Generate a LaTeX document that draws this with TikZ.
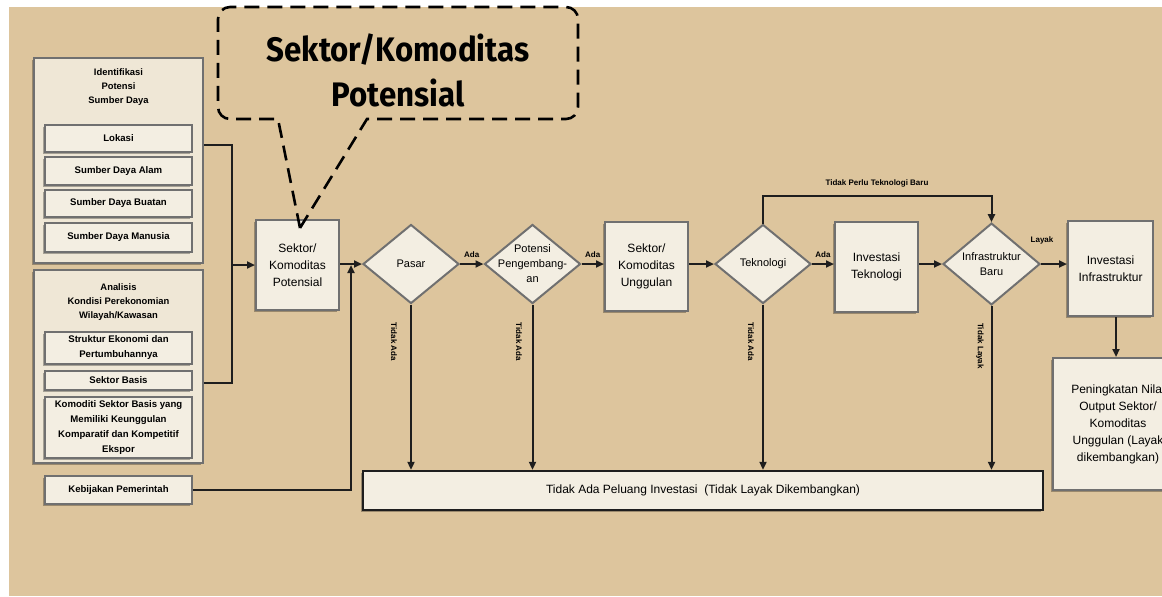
\documentclass[tikz,border=0pt]{standalone}
\usepackage{fontspec}
\setmainfont{Liberation Sans}
\newfontfamily\calloutfont[FakeStretch=0.92]{Fira Sans}
\usepackage{tikz}
\usetikzlibrary{shapes.geometric, arrows.meta, shadows}

\definecolor{paper}{HTML}{DDC59D}
\definecolor{boxfill}{HTML}{F3EEE2}
\definecolor{panelfill}{HTML}{EFE7D6}
\definecolor{edge}{HTML}{707070}
\definecolor{ink}{HTML}{1E1E1E}

\tikzset{
	shade box/.style = {drop shadow = {shadow xshift = -1pt, shadow yshift = -1pt, fill = black, opacity = 0.3}},
	panel/.style = {draw = edge, fill = panelfill, line width = 0.8pt, shade box},
	itembox/.style = {draw = edge, fill = boxfill, line width = 0.8pt, minimum width = 73.5pt, inner sep = 0.5pt, align = center, font = \fontsize{4.8}{7.5}\selectfont\bfseries, shade box},
	flowbox/.style = {draw = edge, fill = boxfill, line width = 1pt, inner sep = 1pt, align = center, font = \fontsize{6}{8.5}\selectfont, shade box},
	decision/.style = {diamond, draw = edge, fill = boxfill, line width = 1pt, inner sep = 0pt, align = center, font = \fontsize{5.5}{7.5}\selectfont, minimum width = 48pt, minimum height = 39.5pt},
	decision text/.style = {align = center, font = \fontsize{5.5}{7.5}\selectfont},
	panel title/.style = {align = center, font = \fontsize{4.7}{7}\selectfont\bfseries},
	tag/.style = {font = \fontsize{4}{5}\selectfont\bfseries, inner sep = 0.5pt},
	vtag/.style = {tag, rotate = -90},
	flow/.style = {draw = ink, line width = 1pt, -{Triangle[length = 4pt, width = 3.5pt]}},
	link/.style = {draw = ink, line width = 1pt},
	callout/.style = {draw = black, line width = 1.3pt, dash pattern = on 7.5pt off 4pt},
}

\begin{document}
\begin{tikzpicture}[x = 0.5pt, y = -0.5pt]
	\fill [white] (0,0) rectangle (1162,596);
	\fill [paper] (9,7) rectangle (1162,596);
	\useasboundingbox (0,0) rectangle (1162,596);

	\node (identifikasi) [panel, minimum width = 84.5pt, minimum height = 102.5pt] at (118.5,160.5) {};
	\node (identifikasi title) [panel title] at (118.5,87) {Identifikasi\\Potensi\\Sumber Daya};
	\node (lokasi) [itembox, minimum height = 13.5pt] at (118.5,138.5) {Lokasi};
	\node (alam) [itembox, minimum height = 14pt] at (118.5,171) {Sumber Daya Alam};
	\node (buatan) [itembox, minimum height = 13.5pt] at (118.5,203.5) {Sumber Daya Buatan};
	\node (manusia) [itembox, minimum height = 14.5pt] at (118.5,237.5) {Sumber Daya Manusia};

	\node (analisis) [panel, minimum width = 84.5pt, minimum height = 96.5pt] at (118.5,366.5) {};
	\node (analisis title) [panel title] at (118.5,302) {Analisis\\Kondisi Perekonomian\\Wilayah/Kawasan};
	\node (struktur) [itembox, minimum height = 16pt] at (118.5,348) {Struktur Ekonomi dan\\Pertumbuhannya};
	\node (basis) [itembox, minimum height = 9.5pt] at (118.5,380.5) {Sektor Basis};
	\node (komoditi) [itembox, minimum height = 30.5pt] at (118.5,427.5) {Komoditi Sektor Basis yang\\Memiliki Keunggulan\\Komparatif dan Kompetitif\\Ekspor};
	\node (kebijakan) [itembox, minimum height = 14pt] at (118.5,490) {Kebijakan Pemerintah};

	\node (potensial) [flowbox, minimum width = 41.5pt, minimum height = 45pt] at (297.5,265) {Sektor/\\Komoditas\\Potensial};
	\node (pasar) [decision] at (411,264) {Pasar};
	\node (pengembangan) [decision, label = {[decision text]center:Potensi\\Pengembang-\\an}] at (532.5,264) {};
	\node (unggulan) [flowbox, minimum width = 41.5pt, minimum height = 44.5pt] at (646.5,266) {Sektor/\\Komoditas\\Unggulan};
	\node (teknologi) [decision] at (763,264) {Teknologi};
	\node (investasi teknologi) [flowbox, minimum width = 41.5pt, minimum height = 45pt] at (876.5,267) {Investasi\\Teknologi};
	\node (infrastruktur) [decision, minimum width = 48.5pt] at (991.5,264) {Infrastruktur\\Baru};
	\node (investasi infrastruktur) [flowbox, minimum width = 42.5pt, minimum height = 47.5pt] at (1110.5,268.5) {Investasi\\Infrastruktur};
	\node (nilai) [flowbox, minimum width = 65pt, minimum height = 66pt] at (1118,424) {Peningkatan Nilai\\Output Sektor/\\Komoditas\\Unggulan (Layak\\dikembangkan)};
	\node (peluang) [flowbox, draw = ink, line width = 1.2pt, minimum width = 340pt, minimum height = 19.5pt] at (703,490.5) {Tidak Ada Peluang Investasi~~(Tidak Layak Dikembangkan)};

	\coordinate (gabung) at (232,265);
	\coordinate (kebijakan masuk) at (351,265);

	\draw [link] (identifikasi.east) ++(0,-15.5) -| (gabung);
	\draw [link] (analisis.east) ++(0,16.5) -| (gabung);
	\draw [flow] (gabung) -- (potensial.west);
	\draw [flow] (kebijakan.east) -| (kebijakan masuk);
	\draw [flow] (potensial.east |- pasar.west) -- (pasar.west);
	\draw [flow] (pasar.east) -- (pengembangan.west) node (ada pasar) [tag, midway, above = 2pt] {Ada};
	\draw [flow] (pengembangan.east) -- (unggulan.west |- pengembangan.east) node (ada pengembangan) [tag, midway, above = 2pt] {Ada};
	\draw [flow] (unggulan.east |- teknologi.west) -- (teknologi.west);
	\draw [flow] (teknologi.east) -- (investasi teknologi.west |- teknologi.east) node (ada teknologi) [tag, midway, above = 2pt] {Ada};
	\draw [flow] (investasi teknologi.east |- infrastruktur.west) -- (infrastruktur.west);
	\draw [flow] (infrastruktur.east) -- (investasi infrastruktur.west |- infrastruktur.east);
	\node (layak) [tag] at (1042,240) {Layak};
	\draw [flow] (teknologi.north) -- ++(0,-28) -| (infrastruktur.north);
	\node (tanpa teknologi) [tag] at (877,183) {Tidak Perlu Teknologi Baru};
	\draw [flow] (investasi infrastruktur.south -| nilai.north) ++(-2,0) -- ([xshift = -1pt]nilai.north);

	\draw [flow] (pasar.south) -- (pasar.south |- peluang.north);
	\draw [flow] (pengembangan.south) -- (pengembangan.south |- peluang.north);
	\draw [flow] (teknologi.south) -- (teknologi.south |- peluang.north);
	\draw [flow] (infrastruktur.south) -- (infrastruktur.south |- peluang.north);
	\node (tidak pasar) [vtag] at (394,342) {Tidak Ada};
	\node (tidak pengembangan) [vtag] at (519,342) {Tidak Ada};
	\node (tidak teknologi) [vtag] at (751,342) {Tidak Ada};
	\node (tidak layak) [vtag] at (980,346) {Tidak Layak};

	\coordinate (callout tip) at (300,228);
	\draw [callout] (callout tip) -- (278,119) [rounded corners = 6pt] -- (218,119) -- (218,7) -- (578,7) -- (578,119) [sharp corners] -- (367,119) -- (callout tip);
	\node (callout text) [font = \fontsize{17}{22.5}\selectfont\calloutfont\bfseries, align = center] at (398,70) {Sektor/Komoditas\\Potensial};
\end{tikzpicture}
\end{document}
